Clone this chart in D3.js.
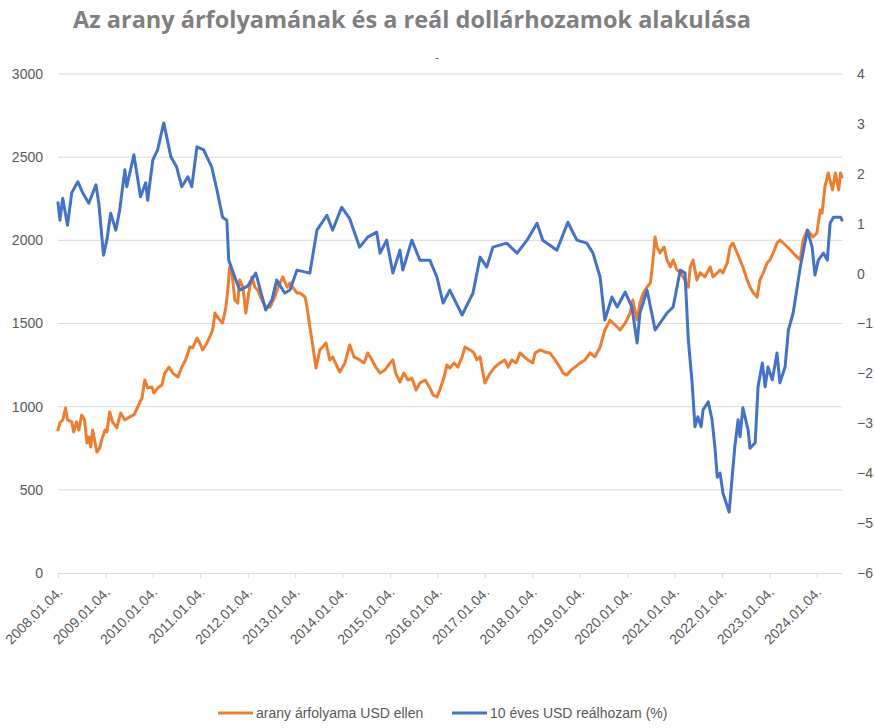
<!DOCTYPE html>
<html>
<head>
<meta charset="utf-8">
<script src="https://cdn.jsdelivr.net/npm/d3@7"></script>
<style>
  html, body { margin: 0; padding: 0; background: #fff; }
  svg { display: block; }
</style>
</head>
<body>
<div id="chart"></div>
<script>
// ---- Data (time as decimal years counted from 4 January of each year) ----
const titleText = "Az arany árfolyamának és a reál dollárhozamok alakulása";
const leftTicks = [0, 500, 1000, 1500, 2000, 2500, 3000];
const rightTicks = [-6, -5, -4, -3, -2, -1, 0, 1, 2, 3, 4];
const yearTicks = [2008, 2009, 2010, 2011, 2012, 2013, 2014, 2015, 2016, 2017, 2018, 2019, 2020, 2021, 2022, 2023, 2024];
const seriesNames = ["arany árfolyama USD ellen", "10 éves USD reálhozam (%)"];

const goldDates = [2008.00,2008.04,2008.10,2008.16,2008.20,2008.29,2008.33,2008.39,2008.44,2008.50,2008.56,2008.61,2008.65,2008.69,2008.73,2008.77,2008.82,2008.88,2008.92,2008.99,
2009.03,2009.09,2009.15,2009.24,2009.32,2009.41,2009.51,2009.60,2009.68,2009.77,2009.83,2009.89,2009.98,2010.02,2010.10,2010.19,2010.25,2010.34,2010.42,2010.53,
2010.61,2010.69,2010.78,2010.84,2010.93,2010.99,2011.05,2011.14,2011.20,2011.26,2011.31,2011.41,2011.47,2011.54,2011.58,2011.62,2011.66,2011.73,2011.79,2011.83,
2011.90,2011.96,2012.02,2012.09,2012.15,2012.21,2012.30,2012.38,2012.47,2012.57,2012.64,2012.74,2012.83,2012.89,2012.95,2013.04,2013.10,2013.21,2013.25,2013.31,
2013.37,2013.44,2013.52,2013.65,2013.73,2013.79,2013.94,2014.05,2014.15,2014.24,2014.36,2014.45,2014.53,2014.62,2014.70,2014.79,2014.89,2015.00,2015.06,2015.12,
2015.21,2015.29,2015.38,2015.46,2015.55,2015.63,2015.74,2015.84,2015.91,2015.99,2016.05,2016.14,2016.20,2016.26,2016.35,2016.43,2016.52,2016.58,2016.69,2016.77,
2016.83,2016.90,2016.96,2017.00,2017.11,2017.21,2017.32,2017.42,2017.49,2017.57,2017.66,2017.74,2017.83,2017.91,2018.01,2018.06,2018.16,2018.27,2018.37,2018.48,
2018.58,2018.65,2018.73,2018.82,2018.90,2019.01,2019.11,2019.22,2019.32,2019.43,2019.53,2019.64,2019.70,2019.79,2019.85,2019.96,2020.06,2020.12,2020.21,2020.27,
2020.34,2020.42,2020.49,2020.53,2020.59,2020.63,2020.69,2020.78,2020.84,2020.91,2020.97,2021.05,2021.12,2021.18,2021.29,2021.33,2021.39,2021.47,2021.54,2021.64,
2021.75,2021.81,2021.90,2021.96,2022.02,2022.11,2022.17,2022.23,2022.32,2022.38,2022.44,2022.53,2022.59,2022.66,2022.74,2022.80,2022.87,2022.95,2023.01,2023.08,
2023.16,2023.22,2023.29,2023.38,2023.44,2023.50,2023.58,2023.65,2023.71,2023.80,2023.85,2023.92,2024.00,2024.07,2024.11,2024.17,2024.24,2024.33,2024.39,2024.46,
2024.50,2024.53];
const goldValues = [860,902,920,992,920,908,848,908,860,950,920,782,818,758,860,800,727,752,800,860,
848,968,908,872,962,920,938,950,998,1052,1160,1112,1118,1082,1112,1130,1202,1238,1202,1178,
1238,1281,1359,1353,1413,1383,1341,1383,1419,1461,1563,1521,1503,1599,1701,1840,1822,1641,1623,1762,
1719,1563,1683,1780,1719,1701,1641,1599,1599,1659,1719,1780,1719,1743,1719,1683,1683,1659,1599,1479,
1371,1232,1341,1383,1281,1299,1208,1263,1371,1299,1281,1263,1323,1281,1238,1202,1220,1263,1281,1202,
1148,1202,1160,1172,1100,1142,1160,1112,1070,1058,1100,1178,1250,1232,1263,1238,1299,1359,1341,1323,
1281,1299,1202,1142,1202,1238,1263,1281,1238,1281,1263,1323,1299,1281,1263,1323,1341,1329,1323,1281,
1238,1202,1190,1220,1238,1263,1281,1323,1299,1359,1461,1521,1503,1479,1461,1503,1563,1641,1521,1623,
1683,1719,1743,1840,2020,1960,1924,1960,1882,1840,1882,1822,1804,1780,1719,1840,1882,1762,1804,1780,
1840,1780,1804,1822,1804,1864,1960,1984,1924,1882,1840,1762,1719,1683,1659,1762,1804,1864,1882,1924,
1984,2002,1984,1960,1942,1924,1900,1882,2002,2062,2044,2020,2044,2182,2164,2321,2405,2303,2405,2303,
2405,2381];

const yieldDates = [2008.00,2008.04,2008.10,2008.20,2008.29,2008.42,2008.52,2008.65,2008.80,2008.86,2008.96,2009.03,2009.11,2009.22,2009.30,2009.41,2009.45,2009.60,2009.74,2009.85,
2009.89,2010.00,2010.10,2010.23,2010.38,2010.50,2010.61,2010.74,2010.82,2010.93,2011.07,2011.24,2011.35,2011.47,2011.56,2011.60,2011.75,2011.83,2012.00,2012.17,
2012.38,2012.51,2012.61,2012.78,2012.89,2013.04,2013.31,2013.46,2013.67,2013.79,2013.98,2014.15,2014.36,2014.53,2014.72,2014.79,2014.93,2015.06,2015.21,2015.27,
2015.46,2015.63,2015.84,2015.99,2016.12,2016.26,2016.52,2016.75,2016.90,2017.04,2017.17,2017.46,2017.68,2017.89,2018.10,2018.22,2018.52,2018.75,2018.94,2019.15,
2019.28,2019.43,2019.53,2019.68,2019.79,2019.96,2020.10,2020.21,2020.27,2020.42,2020.59,2020.84,2020.97,2021.12,2021.22,2021.29,2021.37,2021.43,2021.49,2021.56,
2021.60,2021.71,2021.79,2021.85,2021.90,2021.96,2022.02,2022.15,2022.27,2022.34,2022.38,2022.44,2022.55,2022.59,2022.70,2022.76,2022.85,2022.91,2022.97,2023.06,
2023.16,2023.22,2023.33,2023.40,2023.50,2023.65,2023.80,2023.90,2023.96,2024.03,2024.14,2024.22,2024.28,2024.35,2024.50,2024.53];
const yieldValues = [1.42,1.07,1.51,0.97,1.62,1.84,1.62,1.41,1.78,1.41,0.37,0.67,1.21,0.87,1.27,2.08,1.74,2.38,1.54,1.82,
1.47,2.28,2.48,3.02,2.34,2.14,1.74,1.94,1.74,2.54,2.48,2.14,1.68,1.13,1.07,0.27,-0.13,-0.33,-0.25,0.01,
-0.73,-0.53,-0.13,-0.39,-0.33,0.07,0.01,0.87,1.17,0.87,1.33,1.10,0.53,0.73,0.83,0.41,0.67,0.01,0.47,0.07,
0.67,0.27,0.27,-0.07,-0.59,-0.33,-0.83,-0.39,0.33,0.13,0.53,0.61,0.41,0.67,1.01,0.67,0.47,1.03,0.67,0.61,
0.41,-0.07,-0.93,-0.47,-0.67,-0.37,-0.67,-1.39,-0.79,-0.33,-1.13,-0.79,-0.67,0.07,0.01,-1.33,-2.19,-3.07,-2.87,-3.07,
-2.73,-2.57,-2.93,-3.47,-4.08,-4.00,-4.40,-4.78,-3.47,-2.93,-3.27,-2.69,-3.13,-3.50,-3.39,-2.27,-1.79,-2.27,-1.87,-2.13,
-1.59,-2.19,-1.87,-1.13,-0.79,0.13,0.87,0.53,-0.03,0.27,0.41,0.27,1.01,1.13,1.13,1.07];

// ---- Layout ----
const W = 874, H = 728;
const plot = { left: 58, right: 842, top: 74, bottom: 573 };
const COL_GOLD = "#ED7D31", COL_YIELD = "#4472C4";
const TEXT_COL = "#595959", GRID_COL = "#d9d9d9";
const FONT = "'Liberation Sans', Arial, sans-serif";

const svg = d3.select("#chart").append("svg")
  .attr("width", W).attr("height", H)
  .style("font-family", FONT);

const x = d3.scaleLinear().domain([2008, 2024.53]).range([plot.left, plot.right]);
const yL = d3.scaleLinear().domain([0, 3000]).range([plot.bottom, plot.top]);
const yR = d3.scaleLinear().domain([-6, 4]).range([plot.bottom, plot.top]);

// Title
svg.append("text")
  .attr("x", 412).attr("y", 28)
  .attr("text-anchor", "middle")
  .attr("textLength", 678).attr("lengthAdjust", "spacingAndGlyphs")
  .style("font-family", "'Open Sans', Lato, sans-serif")
  .style("font-weight", 700).style("font-size", "24px")
  .attr("fill", "#7f7f7f")
  .text(titleText);

// small dash under title (empty subtitle artefact)
svg.append("text")
  .attr("x", 437).attr("y", 62)
  .attr("text-anchor", "middle")
  .style("font-size", "12px").attr("fill", "#595959")
  .text("-");

// Gridlines
svg.append("g").selectAll("line").data(leftTicks.slice(1)).join("line")
  .attr("x1", plot.left).attr("x2", plot.right)
  .attr("y1", d => yL(d)).attr("y2", d => yL(d))
  .attr("stroke", GRID_COL).attr("stroke-width", 1);

// Left axis labels
const gL = svg.append("g").attr("transform", `translate(${plot.left},0)`)
  .call(d3.axisLeft(yL).tickValues(leftTicks).tickSize(0).tickPadding(15).tickFormat(d3.format("d")));
gL.select(".domain").remove();
gL.selectAll("text").style("font-size", "14px").style("font-family", FONT).attr("fill", TEXT_COL);

// Right axis labels
const gR = svg.append("g").attr("transform", `translate(${plot.right},0)`)
  .call(d3.axisRight(yR).tickValues(rightTicks).tickSize(0).tickPadding(15).tickFormat(d3.format("d")));
gR.select(".domain").remove();
gR.selectAll("text").style("font-size", "14px").style("font-family", FONT).attr("fill", TEXT_COL);

// Bottom axis
const gX = svg.append("g").attr("transform", `translate(0,${plot.bottom})`)
  .call(d3.axisBottom(x).tickValues(yearTicks).tickSize(5).tickSizeOuter(0)
    .tickFormat(d => `${d}.01.04.`));
gX.select(".domain").attr("stroke", GRID_COL).attr("d", `M${plot.left},0.5H${plot.right}`);
gX.selectAll(".tick line").attr("stroke", GRID_COL);
gX.selectAll("text")
  .style("font-size", "14px").style("font-family", FONT).attr("fill", TEXT_COL)
  .attr("text-anchor", "end")
  .attr("x", 0).attr("y", 0).attr("dy", 0)
  .attr("transform", "translate(5,20) rotate(-45)");

// Lines
const goldData = goldDates.map((t, i) => [t, goldValues[i]]);
const yieldData = yieldDates.map((t, i) => [t, yieldValues[i]]);

svg.append("path").datum(goldData)
  .attr("fill", "none").attr("stroke", COL_GOLD).attr("stroke-width", 3)
  .attr("stroke-linejoin", "round").attr("stroke-linecap", "round")
  .attr("d", d3.line().x(d => x(d[0])).y(d => yL(d[1])));

svg.append("path").datum(yieldData)
  .attr("fill", "none").attr("stroke", COL_YIELD).attr("stroke-width", 3)
  .attr("stroke-linejoin", "round").attr("stroke-linecap", "round")
  .attr("d", d3.line().x(d => x(d[0])).y(d => yR(d[1])));

// Legend
const legend = [
  { name: seriesNames[0], color: COL_GOLD, x: 218 },
  { name: seriesNames[1], color: COL_YIELD, x: 452 }
];
const lg = svg.append("g").selectAll("g").data(legend).join("g")
  .attr("transform", d => `translate(${d.x},713)`);
lg.append("line").attr("x1", 0).attr("x2", 35).attr("y1", 0).attr("y2", 0)
  .attr("stroke", d => d.color).attr("stroke-width", 3);
lg.append("text").attr("x", 38).attr("y", 5)
  .style("font-size", "14px").attr("fill", TEXT_COL)
  .text(d => d.name);
</script>
</body>
</html>
